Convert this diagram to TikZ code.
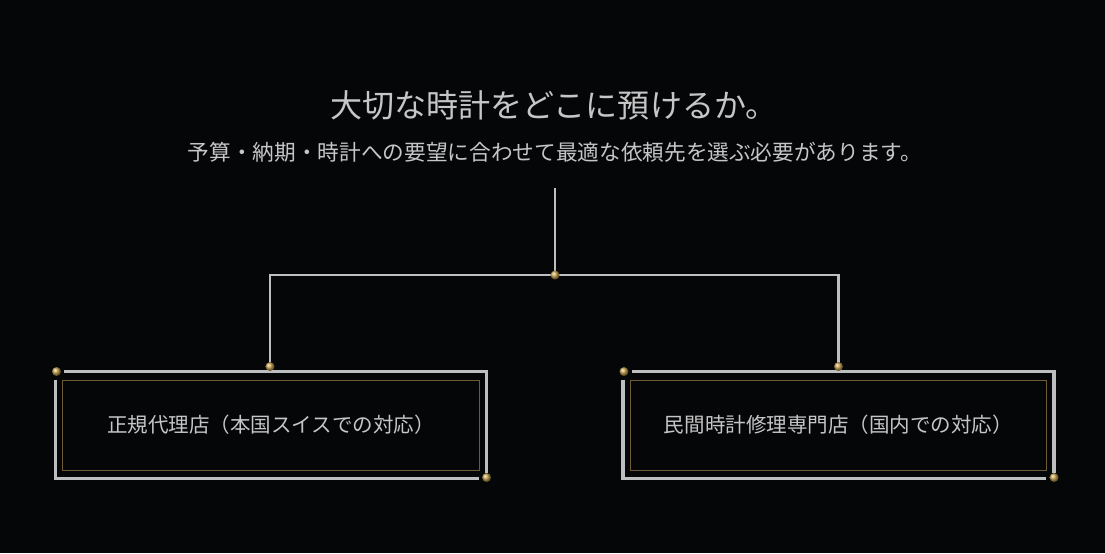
\documentclass[tikz,border=0pt]{standalone}
\usepackage{fontspec}
\newfontfamily\jpfont{Noto Sans CJK JP}
\usetikzlibrary{positioning, calc}
\definecolor{bgblack}{HTML}{050608}
\definecolor{silver}{HTML}{BDBEC0}
\definecolor{brass}{HTML}{C9A54E}
\definecolor{darkbrass}{HTML}{6E5A34}
\definecolor{textgray}{HTML}{C6C6C6}

\begin{document}
\begin{tikzpicture}[x=0.025cm,y=-0.025cm,
    wire/.style={silver, line width=1.6pt},
    rim/.style={silver, line width=2.4pt},
    rivet/.style={shading=ball, ball color=brass},
    panel/.style={draw=darkbrass, line width=0.7pt, minimum width=10.4cm, minimum height=2.25cm,
      inner sep=0pt, text=textgray, font=\jpfont\fontsize{14.6}{17}\selectfont}]
    \fill[bgblack] (0,0) rectangle (1105,553);
    \node[text=textgray, font=\jpfont\fontsize{22.8}{26}\selectfont] (title) at (554,105) {大切な時計をどこに預けるか。};
    \node[text=textgray, font=\jpfont\fontsize{15.4}{18}\selectfont] (subtitle) at (555,152) {予算・納期・時計への要望に合わせて最適な依頼先を選ぶ必要があります。};
    \node[panel] (dealer) at (271,425) {正規代理店（本国スイスでの対応）};
    \node[panel] (repair) at (838.5,425) {民間時計修理専門店（国内での対応）};
    \coordinate (stem) at (555,188);
    \coordinate (hub) at (555,275);
    \coordinate (ldot) at ($(dealer.north)+(-1,-13)$);
    \coordinate (rdot) at ($(repair.north)+(0,-13)$);
    \draw[wire] (stem) -- (hub);
    \draw[wire] (ldot) |- (hub) -| (rdot);
    \foreach \b in {dealer,repair}{
      \draw[rim] ($(\b.north west)+(2,-8)$) -| ($(\b.south east)+(7,2)$);
      \draw[rim] ($(\b.north west)+(-7,0)$) |- ($(\b.south east)+(-1,8)$);
      \shade[rivet] ($(\b.north west)+(-6,-8)$) circle[radius=4.5];
      \shade[rivet] ($(\b.south east)+(7,7)$) circle[radius=4.5];
    }
    \shade[rivet] (hub) circle[radius=4.5];
    \shade[rivet] (ldot) circle[radius=4.5];
    \shade[rivet] (rdot) circle[radius=4.5];
\end{tikzpicture}
\end{document}
